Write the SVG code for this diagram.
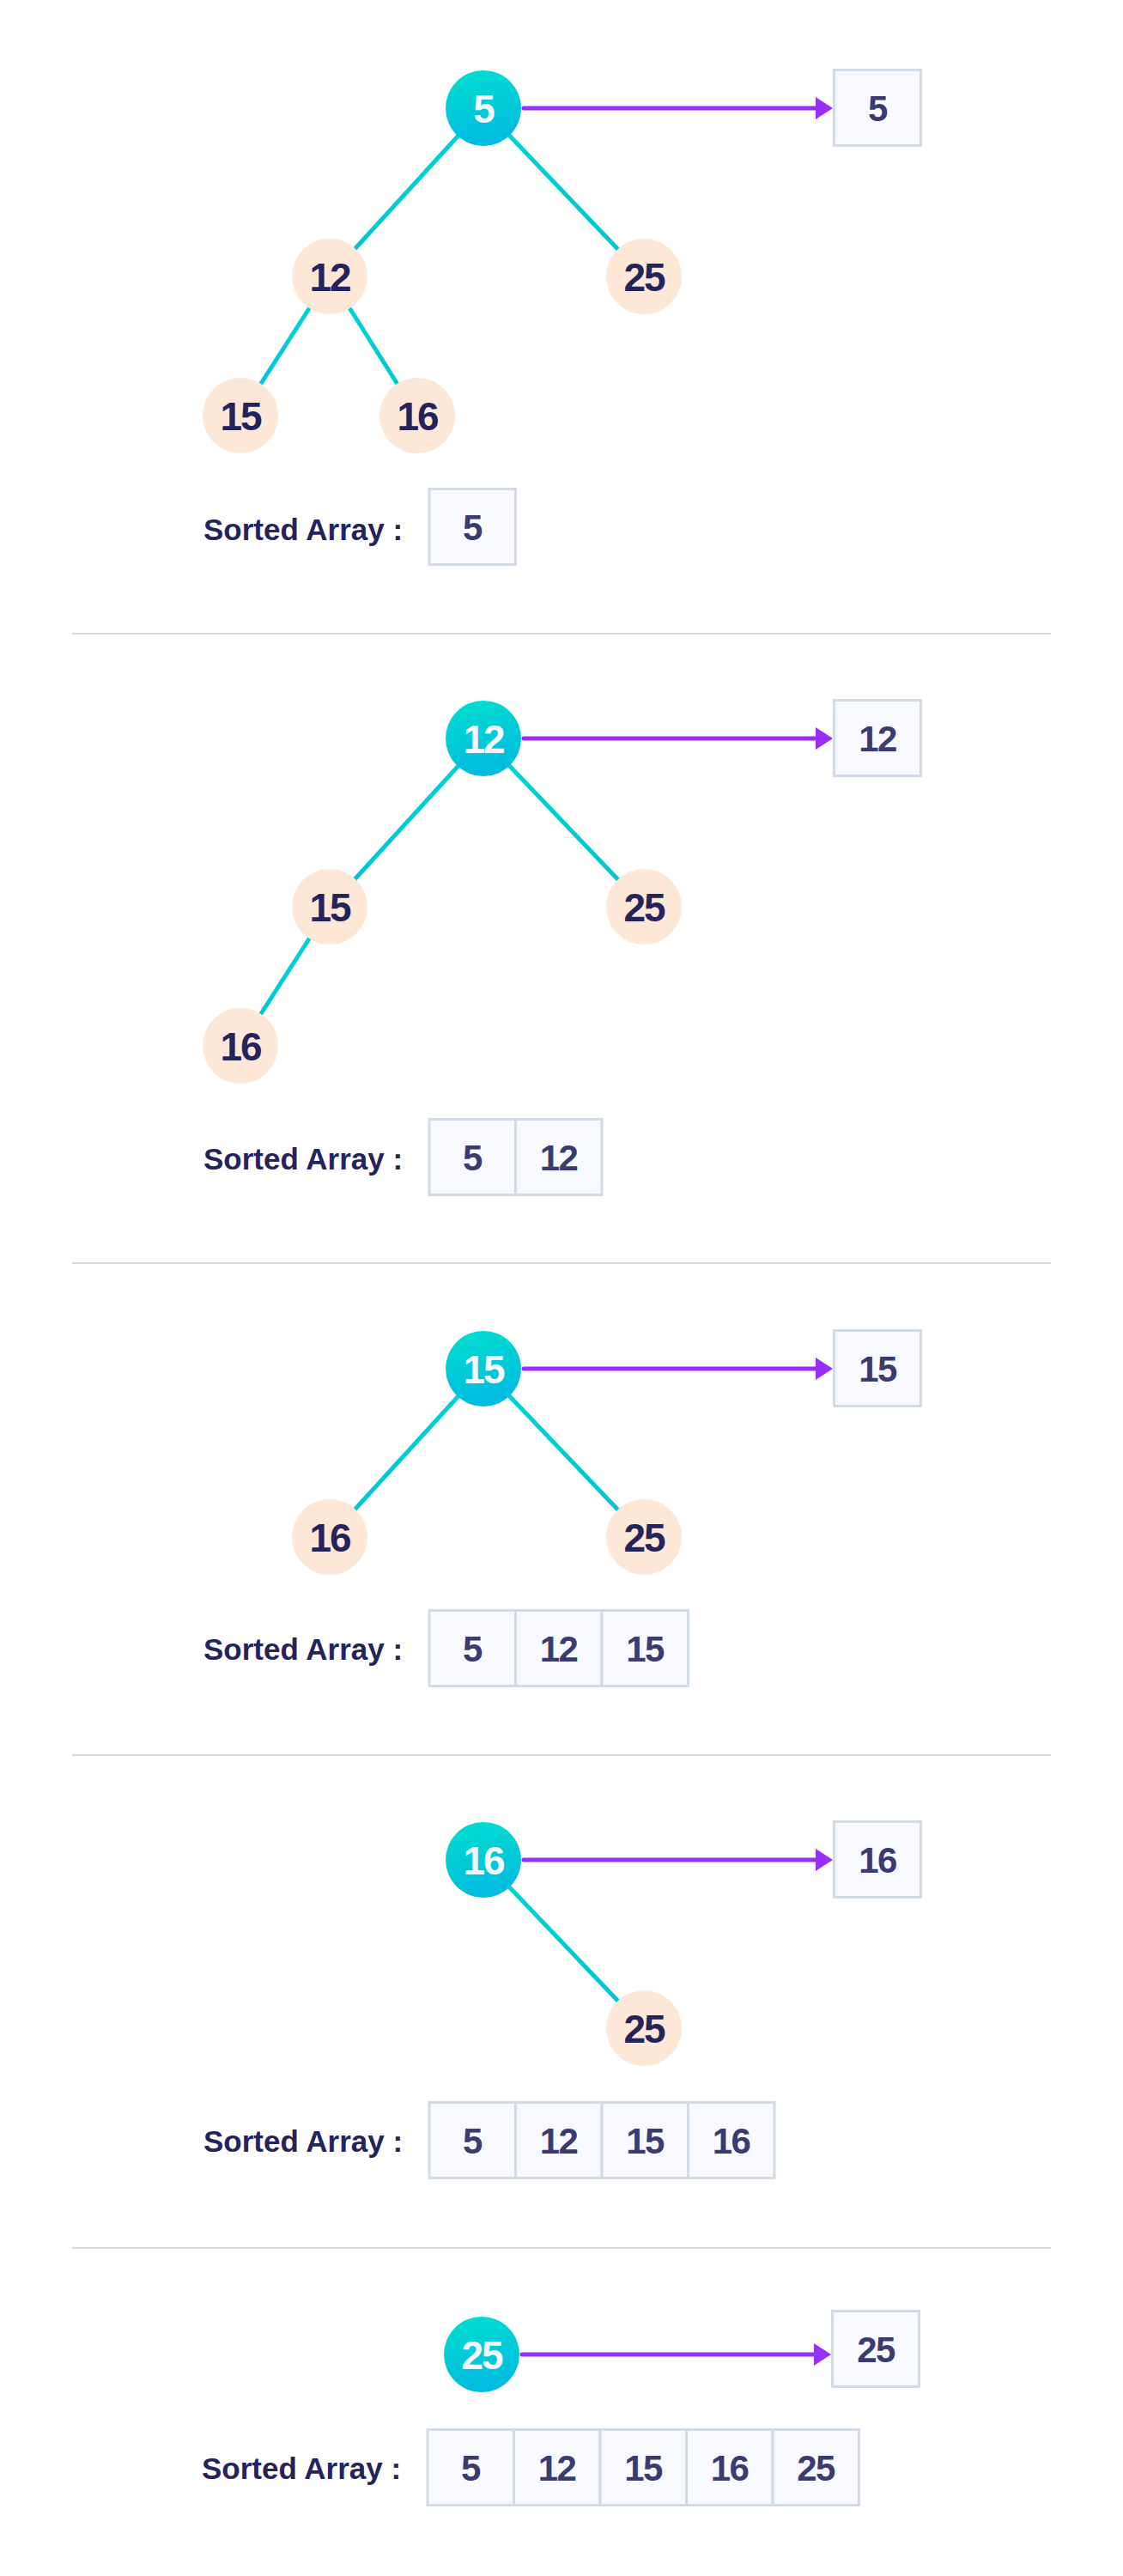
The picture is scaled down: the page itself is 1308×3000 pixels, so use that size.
<svg xmlns="http://www.w3.org/2000/svg" width="1308" height="3000" viewBox="0 0 1308 3000">
<defs>
<linearGradient id="rootGrad" x1="0" y1="0" x2="0.25" y2="1">
<stop offset="0" stop-color="#00dfcf"/>
<stop offset="1" stop-color="#00bce0"/>
</linearGradient>
<linearGradient id="edgeGrad" x1="0" y1="0" x2="0" y2="1">
<stop offset="0" stop-color="#00d6d0"/>
<stop offset="1" stop-color="#00c2da"/>
</linearGradient>
</defs>
<style>
.bg{fill:#ffffff}
.root{fill:url(#rootGrad)}
.child{fill:#fde7d7}
.edge{stroke:url(#edgeGrad);stroke-width:5;fill:none}
.arrow{stroke:#9a2ef9;stroke-width:5;stroke-linecap:round;fill:none}
.head{fill:#9a2ef9}
.cell{fill:#f7f9fe;stroke:#d3dbe6;stroke-width:3}
.sep{stroke:#d3dbe6;stroke-width:2}
.rt{font-family:"Liberation Sans",Arial,sans-serif;font-weight:700;font-size:46px;fill:#f6f7ff;text-anchor:middle;letter-spacing:-2px}
.ct{font-family:"Liberation Sans",Arial,sans-serif;font-weight:700;font-size:46px;fill:#25235b;text-anchor:middle;letter-spacing:-2px}
.bt{font-family:"Liberation Sans",Arial,sans-serif;font-weight:700;font-size:42px;fill:#3c3b70;text-anchor:middle;letter-spacing:-1.5px}
.lbl{font-family:"Liberation Sans",Arial,sans-serif;font-weight:700;font-size:35px;fill:#25235b}
</style>
<rect class="bg" x="0" y="0" width="1308" height="3000"/>

<g id="connectors">
<!-- section 1 -->
<line class="edge" x1="563" y1="126" x2="384" y2="322"/>
<line class="edge" x1="563" y1="126" x2="750" y2="322"/>
<line class="edge" x1="384" y1="322" x2="280" y2="484"/>
<line class="edge" x1="384" y1="322" x2="486" y2="484"/>
<line class="arrow" x1="610" y1="126" x2="952" y2="126"/>
<polygon class="head" points="970,126 950,113 950,139"/>
<!-- section 2 -->
<line class="edge" x1="563" y1="860" x2="384" y2="1056"/>
<line class="edge" x1="563" y1="860" x2="750" y2="1056"/>
<line class="edge" x1="384" y1="1056" x2="280" y2="1218"/>
<line class="arrow" x1="610" y1="860" x2="952" y2="860"/>
<polygon class="head" points="970,860 950,847 950,873"/>
<!-- section 3 -->
<line class="edge" x1="563" y1="1594" x2="384" y2="1790"/>
<line class="edge" x1="563" y1="1594" x2="750" y2="1790"/>
<line class="arrow" x1="610" y1="1594" x2="952" y2="1594"/>
<polygon class="head" points="970,1594 950,1581 950,1607"/>
<!-- section 4 -->
<line class="edge" x1="563" y1="2166" x2="750" y2="2362"/>
<line class="arrow" x1="610" y1="2166" x2="952" y2="2166"/>
<polygon class="head" points="970,2166 950,2153 950,2179"/>
<!-- section 5 -->
<line class="arrow" x1="608" y1="2742" x2="950" y2="2742"/>
<polygon class="head" points="968,2742 948,2729 948,2755"/>
</g>

<g id="separators">
<line class="sep" x1="84" y1="738" x2="1224" y2="738"/>
<line class="sep" x1="84" y1="1471" x2="1224" y2="1471"/>
<line class="sep" x1="84" y1="2044" x2="1224" y2="2044"/>
<line class="sep" x1="84" y1="2618" x2="1224" y2="2618"/>
</g>

<!-- Section 1 -->
<g id="s1-root"><circle class="root" cx="563" cy="126" r="44"/><text class="rt" x="563" y="143">5</text></g>
<g id="s1-n12"><circle class="child" cx="384" cy="322" r="44"/><text class="ct" x="384" y="339">12</text></g>
<g id="s1-n25"><circle class="child" cx="750" cy="322" r="44"/><text class="ct" x="750" y="339">25</text></g>
<g id="s1-n15"><circle class="child" cx="280" cy="484" r="44"/><text class="ct" x="280" y="501">15</text></g>
<g id="s1-n16"><circle class="child" cx="486" cy="484" r="44"/><text class="ct" x="486" y="501">16</text></g>
<g id="s1-out"><rect class="cell" x="971.5" y="81.5" width="101" height="88"/><text class="bt" x="1022" y="141">5</text></g>
<g id="s1-sorted">
<text class="lbl" x="237" y="629">Sorted Array :</text>
<rect class="cell" x="500" y="569.5" width="100.5" height="88"/><text class="bt" x="550" y="629">5</text>
</g>

<!-- Section 2 -->
<g id="s2-root"><circle class="root" cx="563" cy="860" r="44"/><text class="rt" x="563" y="877">12</text></g>
<g id="s2-n15"><circle class="child" cx="384" cy="1056" r="44"/><text class="ct" x="384" y="1073">15</text></g>
<g id="s2-n25"><circle class="child" cx="750" cy="1056" r="44"/><text class="ct" x="750" y="1073">25</text></g>
<g id="s2-n16"><circle class="child" cx="280" cy="1218" r="44"/><text class="ct" x="280" y="1235">16</text></g>
<g id="s2-out"><rect class="cell" x="971.5" y="815.5" width="101" height="88"/><text class="bt" x="1022" y="875">12</text></g>
<g id="s2-sorted">
<text class="lbl" x="237" y="1362">Sorted Array :</text>
<rect class="cell" x="500" y="1303.5" width="100.5" height="88"/><text class="bt" x="550" y="1363">5</text>
<rect class="cell" x="600.5" y="1303.5" width="100.5" height="88"/><text class="bt" x="650.5" y="1363">12</text>
</g>

<!-- Section 3 -->
<g id="s3-root"><circle class="root" cx="563" cy="1594" r="44"/><text class="rt" x="563" y="1611">15</text></g>
<g id="s3-n16"><circle class="child" cx="384" cy="1790" r="44"/><text class="ct" x="384" y="1807">16</text></g>
<g id="s3-n25"><circle class="child" cx="750" cy="1790" r="44"/><text class="ct" x="750" y="1807">25</text></g>
<g id="s3-out"><rect class="cell" x="971.5" y="1549.5" width="101" height="88"/><text class="bt" x="1022" y="1609">15</text></g>
<g id="s3-sorted">
<text class="lbl" x="237" y="1933">Sorted Array :</text>
<rect class="cell" x="500" y="1875.5" width="100.5" height="88"/><text class="bt" x="550" y="1935">5</text>
<rect class="cell" x="600.5" y="1875.5" width="100.5" height="88"/><text class="bt" x="650.5" y="1935">12</text>
<rect class="cell" x="701" y="1875.5" width="100.5" height="88"/><text class="bt" x="751" y="1935">15</text>
</g>

<!-- Section 4 -->
<g id="s4-root"><circle class="root" cx="563" cy="2166" r="44"/><text class="rt" x="563" y="2183">16</text></g>
<g id="s4-n25"><circle class="child" cx="750" cy="2362" r="44"/><text class="ct" x="750" y="2379">25</text></g>
<g id="s4-out"><rect class="cell" x="971.5" y="2121.5" width="101" height="88"/><text class="bt" x="1022" y="2181">16</text></g>
<g id="s4-sorted">
<text class="lbl" x="237" y="2506">Sorted Array :</text>
<rect class="cell" x="500" y="2448.5" width="100.5" height="88"/><text class="bt" x="550" y="2508">5</text>
<rect class="cell" x="600.5" y="2448.5" width="100.5" height="88"/><text class="bt" x="650.5" y="2508">12</text>
<rect class="cell" x="701" y="2448.5" width="100.5" height="88"/><text class="bt" x="751" y="2508">15</text>
<rect class="cell" x="801.5" y="2448.5" width="100.5" height="88"/><text class="bt" x="851.5" y="2508">16</text>
</g>

<!-- Section 5 -->
<g id="s5-root"><circle class="root" cx="561" cy="2742" r="44"/><text class="rt" x="561" y="2759">25</text></g>
<g id="s5-out"><rect class="cell" x="969.5" y="2691.5" width="101" height="88"/><text class="bt" x="1020" y="2751">25</text></g>
<g id="s5-sorted">
<text class="lbl" x="235" y="2887">Sorted Array :</text>
<rect class="cell" x="498" y="2829.5" width="100.5" height="88"/><text class="bt" x="548" y="2889">5</text>
<rect class="cell" x="598.5" y="2829.5" width="100.5" height="88"/><text class="bt" x="648.5" y="2889">12</text>
<rect class="cell" x="699" y="2829.5" width="100.5" height="88"/><text class="bt" x="749" y="2889">15</text>
<rect class="cell" x="799.5" y="2829.5" width="100.5" height="88"/><text class="bt" x="849.5" y="2889">16</text>
<rect class="cell" x="900" y="2829.5" width="100.5" height="88"/><text class="bt" x="950" y="2889">25</text>
</g>
</svg>
